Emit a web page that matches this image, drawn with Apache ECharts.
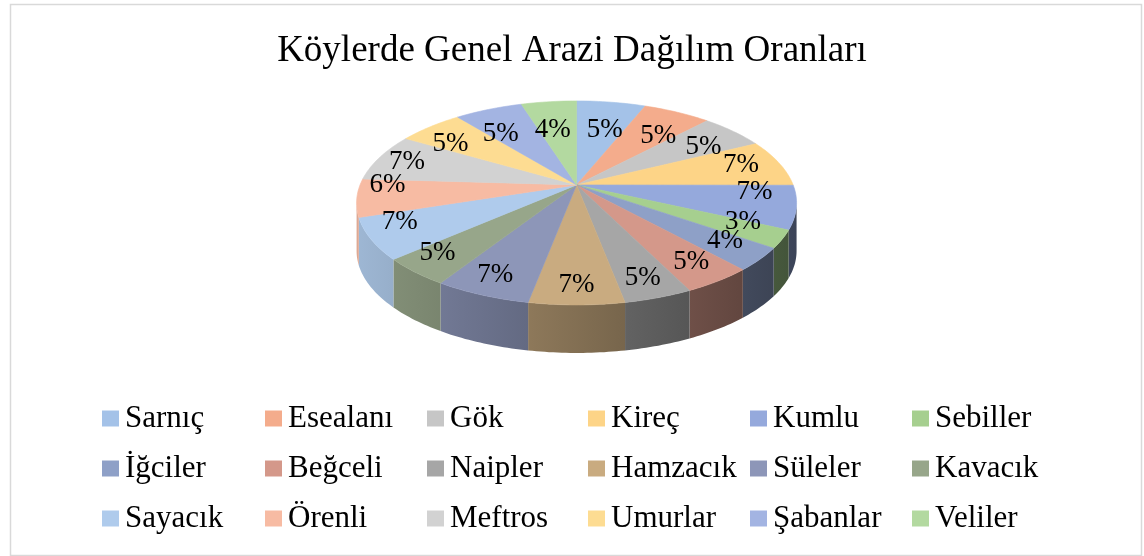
<!DOCTYPE html>
<html><head><meta charset="utf-8">
<script src="https://cdn.jsdelivr.net/npm/echarts/dist/echarts.min.js"></script>
<style>html,body{margin:0;padding:0;background:#fff}#c{width:1144px;height:556px}</style>
</head><body><div id="c"></div>
<script>
const titleText = 'Köylerde Genel Arazi Dağılım Oranları';
const categories = ['Sarnıç','Esealanı','Gök','Kireç','Kumlu','Sebiller','İğciler','Beğceli','Naipler','Hamzacık','Süleler','Kavacık','Sayacık','Örenli','Meftros','Umurlar','Şabanlar','Veliler'];
const values = [5,5,5,7,7,3,4,5,5,7,7,5,7,6,7,5,5,4];
const colors = ['#A4C2E8','#F4AC8C','#C6C6C6','#FDD487','#95A9DC','#A6CF8F','#8EA0C7','#D4988A','#A6A6A6','#C9AB80','#8D96B8','#97A68A','#AFCBEC','#F7BBA3','#D2D2D2','#FDDC92','#A3B4E2','#B3D9A0'];

const FONT = '"Liberation Serif","Times New Roman",serif';
const total = values.reduce((a,b)=>a+b,0);
const starts = []; let acc = 0; values.forEach(v=>{starts.push(acc); acc+=v;});

function shade(hex,f){
  const n=parseInt(hex.slice(1),16);
  const r=Math.round(((n>>16)&255)*f), g=Math.round(((n>>8)&255)*f), b=Math.round((n&255)*f);
  return 'rgb('+r+','+g+','+b+')';
}
function geom(api){
  const W=api.getWidth(), H=api.getHeight();
  return {cx:W*0.504, cy:H*0.365, rx:220, ry:102, depth:48, apexUp:18};
}
function rim(g,t){ return [g.cx+g.rx*Math.sin(t), g.cy-g.ry*Math.cos(t)]; }

function makeRender(i){
  return function(params, api){
    const g = geom(api);
    const v = api.value(0);
    const a0 = starts[i]/total*2*Math.PI, a1 = (starts[i]+v)/total*2*Math.PI;
    const apex = [g.cx, g.cy-g.apexUp];
    const children = [];
    const s = Math.max(a0, Math.PI/2), e = Math.min(a1, 1.5*Math.PI);
    if (e > s) {
      const up=[], down=[];
      const m = Math.max(4, Math.ceil((e-s)/0.02));
      for (let k=0;k<=m;k++){ const p=rim(g, s+(e-s)*k/m); up.push(p); down.push([p[0], p[1]+g.depth]); }
      children.push({type:'polygon', z2:1, shape:{points:up.concat(down.reverse())},
        style:{fill:new echarts.graphic.LinearGradient(g.cx-g.rx,0,g.cx+g.rx,0,
          [{offset:0,color:shade(colors[i],0.9)},{offset:1,color:shade(colors[i],0.4)}],true),
          stroke:null}});
    }
    const n = Math.max(4, Math.ceil((a1-a0)/0.02));
    const top=[apex];
    for (let k=0;k<=n;k++) top.push(rim(g, a0+(a1-a0)*k/n));
    children.push({type:'polygon', z2:5, shape:{points:top}, style:{fill:colors[i], stroke:colors[i], lineWidth:0.6}});
    const am = (a0+a1)/2, c = Math.cos(am), sn = Math.sin(am);
    const lx = g.cx + (sn<0?0.86:0.81)*g.rx*sn;
    const ly = (g.cy-0.15*g.ry) - (c>0?0.57:0.95)*g.ry*c;
    children.push({type:'text', z2:10, style:{x:lx, y:ly, text:v+'%', fill:'#000', font:'27px '+FONT, align:'center', verticalAlign:'middle'}});
    return {type:'group', children};
  };
}

const legendLefts = [97,260,422,583,745,907];
const chart = echarts.init(document.getElementById('c'), null, {renderer:'canvas'});
chart.setOption({
  backgroundColor:'#fff',
  animation:false,
  title:{text:titleText, left:'center', top:28, textStyle:{fontFamily:FONT, fontSize:37, fontWeight:'normal', color:'#000'}},
  graphic:[{type:'rect', left:8, top:2, shape:{width:1131, height:551}, style:{fill:null, stroke:'#D9D9D9', lineWidth:1.5}, silent:true}],
  legend: legendLefts.map((l,col)=>({
    orient:'vertical', left:l, top:398, itemWidth:17, itemHeight:16, itemGap:19, icon:'rect',
    selectedMode:false,
    data: categories.filter((_,i)=>i%6===col),
    textStyle:{fontFamily:FONT, fontSize:31, lineHeight:31, color:'#000', padding:[0,0,0,1]}
  })),
  series: categories.map((name,i)=>({
    type:'custom', name, coordinateSystem:'none',
    itemStyle:{color:colors[i]},
    renderItem: makeRender(i),
    data:[values[i]]
  }))
});
</script></body></html>
